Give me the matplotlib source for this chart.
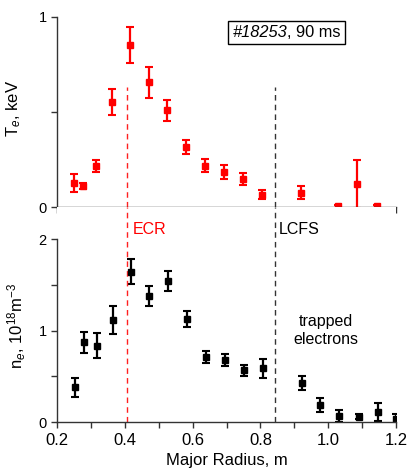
import matplotlib.pyplot as plt
import numpy as np
from matplotlib.ticker import MultipleLocator
from matplotlib.offsetbox import TextArea, HPacker, AnchoredOffsetbox

plt.rcParams['font.family'] = ['Liberation Sans', 'DejaVu Sans']
plt.rcParams['mathtext.fontset'] = 'custom'
plt.rcParams['mathtext.rm'] = 'Liberation Sans'
plt.rcParams['mathtext.it'] = 'Liberation Sans:italic'

# electron temperature (top panel)
r_te = [0.249, 0.275, 0.314, 0.362, 0.414, 0.470, 0.525, 0.580, 0.636, 0.692,
        0.749, 0.806, 0.919, 1.030, 1.086, 1.143]
te = [0.125, 0.112, 0.217, 0.551, 0.851, 0.656, 0.509, 0.316, 0.217, 0.184,
      0.146, 0.065, 0.075, 0.005, 0.121, 0.004]
te_err = [0.048, 0.015, 0.033, 0.069, 0.095, 0.083, 0.054, 0.039, 0.034, 0.035,
          0.032, 0.025, 0.033, 0.008, 0.126, 0.008]

# electron density (bottom panel)
r_ne = [0.252, 0.278, 0.316, 0.365, 0.418, 0.472, 0.528, 0.583, 0.639, 0.695,
        0.752, 0.808, 0.922, 0.977, 1.033, 1.090, 1.146, 1.200]
ne = [0.382, 0.873, 0.836, 1.116, 1.644, 1.378, 1.545, 1.131, 0.716, 0.680,
      0.567, 0.589, 0.433, 0.185, 0.065, 0.062, 0.109, 0.036]
ne_err = [0.102, 0.116, 0.135, 0.151, 0.138, 0.113, 0.107, 0.087, 0.064, 0.062,
          0.058, 0.102, 0.076, 0.076, 0.067, 0.025, 0.098, 0.06]

r_ecr = 0.406
r_lcfs = 0.843

fig = plt.figure(figsize=(4.09, 4.72), dpi=100)
ax1 = fig.add_axes([0.140, 0.5614, 0.828, 0.4026])
ax2 = fig.add_axes([0.140, 0.1053, 0.828, 0.4561])

eb = dict(fmt='s', markersize=4.5, elinewidth=1.6, capsize=3, capthick=1.5)
ax1.errorbar(r_te, te, yerr=te_err, color='#ff0000', **eb)
ax2.errorbar(r_ne, ne, yerr=ne_err, color='black', **eb)

ax1.axvline(r_ecr, ymin=0, ymax=0.63, color='#ff2020', ls=(0, (4, 3)), lw=1)
ax1.axvline(r_lcfs, ymin=0, ymax=0.63, color='#333333', ls=(0, (4, 3)), lw=1)
ax2.axvline(r_ecr, color='#ff2020', ls=(0, (4, 3)), lw=1)
ax2.axvline(r_lcfs, color='#333333', ls=(0, (4, 3)), lw=1)

ax1.set_xlim(0.2, 1.2)
ax1.set_ylim(0, 1)
ax2.set_xlim(0.2, 1.2)
ax2.set_ylim(0, 2.35)

for ax in (ax1, ax2):
    ax.spines['top'].set_visible(False)
    ax.spines['right'].set_visible(False)
    for s in ('left', 'bottom'):
        ax.spines[s].set_color('#333333')
        ax.spines[s].set_linewidth(1)
    ax.xaxis.set_major_locator(MultipleLocator(0.2))
    ax.xaxis.set_minor_locator(MultipleLocator(0.1))
    ax.yaxis.set_minor_locator(MultipleLocator(0.5))
    ax.tick_params(which='both', direction='out', length=4, width=1, color='#333333')
    ax.tick_params(axis='y', labelsize=10.5)
    ax.tick_params(axis='x', labelsize=12)

ax2.spines['left'].set_bounds(0, 2)
ax1.set_yticks([0, 1])
ax2.set_yticks([0, 1, 2])
ax1.set_xticklabels([])
ax2.set_xticks([0.2, 0.4, 0.6, 0.8, 1.0, 1.2])
ax2.set_xticklabels(['0.2', '0.4', '0.6', '0.8', '1.0', '1.2'])

ax1.set_ylabel('T$_e$, keV', fontsize=12)
ax1.yaxis.set_label_coords(-0.10, 0.52)
ax2.set_ylabel('n$_e$, 10$^{18}$m$^{-3}$', fontsize=12)
ax2.yaxis.set_label_coords(-0.087, 0.45)
ax2.set_xlabel('Major Radius, m', fontsize=12, labelpad=4)

# shot label: italic number followed by upright text, in a box
part1 = TextArea('#18253', textprops=dict(style='italic', fontsize=11.8))
part2 = TextArea(', 90 ms', textprops=dict(fontsize=11.8))
pack = HPacker(children=[part1, part2], sep=0, pad=0, align='baseline')
box = AnchoredOffsetbox(loc='center', child=pack, pad=0.3, borderpad=0, frameon=True,
                        bbox_to_anchor=(0.877, 0.918), bbox_transform=ax1.transData)
box.patch.set_boxstyle('square', pad=0)
box.patch.set_linewidth(1)
box.patch.set_edgecolor('black')
ax1.add_artist(box)

ax2.text(0.4235, 2.10, 'ECR', color='#ff0000', fontsize=11.5, va='center', ha='left')
ax2.text(0.854, 2.10, 'LCFS', color='black', fontsize=11.5, va='center', ha='left')
ax2.text(0.993, 1.0, 'trapped\nelectrons', fontsize=11.5, ha='center', va='center')

fig.savefig('out.png', dpi=100)
